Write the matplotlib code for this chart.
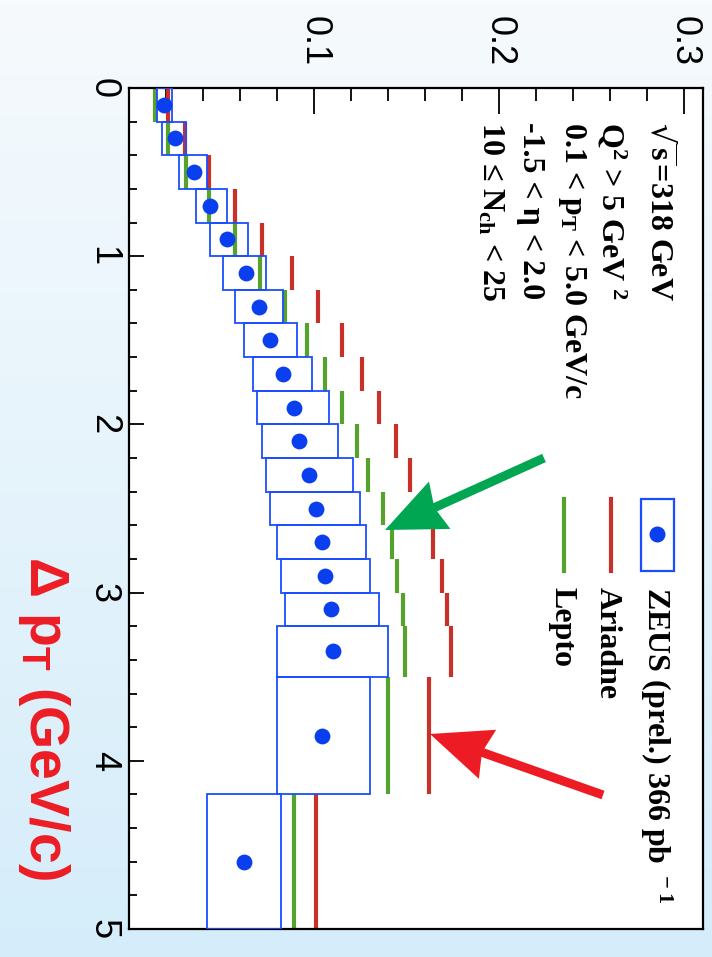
import numpy as np
import matplotlib
matplotlib.use("Agg")
import matplotlib.pyplot as plt
from matplotlib.patches import Rectangle, FancyArrow

plt.rcParams['font.family'] = ['Liberation Sans', 'DejaVu Sans']
plt.rcParams['mathtext.default'] = 'regular'

# bins in Delta pT (GeV/c)
pt_edges = [0.0, 0.2, 0.4, 0.6, 0.8, 1.0, 1.2, 1.4, 1.6, 1.8, 2.0,
            2.2, 2.4, 2.6, 2.8, 3.0, 3.2, 3.5, 4.2, 5.0]
# ZEUS (prel.) points and systematic box edges
zeus = [0.019, 0.025, 0.035, 0.044, 0.053, 0.063, 0.070, 0.076, 0.083, 0.089,
        0.092, 0.097, 0.101, 0.104, 0.106, 0.109, 0.110, 0.104, 0.062]
zeus_lo = [0.015, 0.018, 0.027, 0.036, 0.044, 0.051, 0.057, 0.062, 0.067, 0.069,
           0.072, 0.074, 0.076, 0.080, 0.082, 0.084, 0.080, 0.080, 0.042]
zeus_hi = [0.023, 0.031, 0.042, 0.053, 0.064, 0.074, 0.083, 0.091, 0.099, 0.108,
           0.113, 0.121, 0.125, 0.128, 0.130, 0.135, 0.140, 0.130, 0.082]
# MC predictions
ariadne = [0.021, 0.030, 0.043, 0.057, 0.072, 0.088, 0.102, 0.115, 0.126, 0.135,
           0.144, 0.152, 0.160, 0.164, 0.169, 0.172, 0.174, 0.162, 0.101]
lepto = [0.014, 0.021, 0.031, 0.043, 0.057, 0.071, 0.084, 0.096, 0.106, 0.115,
         0.123, 0.129, 0.137, 0.142, 0.145, 0.148, 0.149, 0.140, 0.089]

W, H = 712, 957
blue_box = '#1a4dff'
blue_dot = '#0a3ff0'
red = '#c8312a'
green = '#56a22e'

fig = plt.figure(figsize=(W / 100, H / 100), dpi=100)

# slide background
bg = fig.add_axes([0, 0, 1, 1], zorder=0)
t = np.linspace(0, 1, 256)[:, None, None]
top = np.array([246, 250, 253]) / 255
bot = np.array([213, 237, 250]) / 255
bg.imshow(top + (bot - top) * t, aspect='auto', extent=[0, 1, 0, 1])
bg.axis('off')

ax = fig.add_axes([129 / W, 1 - 929 / H, (703 - 129) / W, (929 - 88) / H], zorder=1)
ax.set_facecolor('white')
ax.set_xlim(0, 0.31)
ax.set_ylim(5, 0)

lo = np.array(pt_edges[:-1])
hi = np.array(pt_edges[1:])
mid = (lo + hi) / 2

ax.vlines(lepto, lo, hi, color=green, lw=3)
ax.vlines(ariadne, lo, hi, color=red, lw=3)
for a, b, l, h in zip(lo, hi, zeus_lo, zeus_hi):
    ax.add_patch(Rectangle((l, a), h - l, b - a, fill=False, ec=blue_box, lw=1.3, zorder=3))
ax.scatter(zeus, mid, s=130, color=blue_dot, linewidths=0, zorder=4)

ax.xaxis.tick_top()
ax.set_xticks([0.1, 0.2, 0.3])
ax.set_xticks(np.arange(0.02, 0.305, 0.02), minor=True)
ax.set_xticklabels(['0.1', '0.2', '0.3'], rotation=-90, fontsize=26)
ax.tick_params(axis='x', which='major', direction='in', length=19, width=1.3, pad=16)
ax.tick_params(axis='x', which='minor', direction='in', length=9, width=1.3)
ax.set_yticks(range(6))
ax.set_yticks(np.arange(0, 5.01, 0.2), minor=True)
ax.set_yticklabels([str(i) for i in range(6)], rotation=-90, fontsize=26, va='center')
ax.tick_params(axis='y', which='major', direction='in', length=11, width=1.3, pad=6)
ax.tick_params(axis='y', which='minor', direction='in', length=6, width=1.3)
for s in ax.spines.values():
    s.set_linewidth(1.6)

# overlay in pixel coordinates for legend, labels and arrows
ov = fig.add_axes([0, 0, 1, 1], zorder=3)
ov.set_xlim(0, W)
ov.set_ylim(H, 0)
ov.axis('off')
ov.patch.set_alpha(0)

serif = dict(family=['Liberation Serif', 'DejaVu Serif'], weight='bold', size=23,
             rotation=-90, rotation_mode='anchor', ha='left', va='baseline')

# legend
ov.add_patch(Rectangle((641, 499), 33, 72, fill=False, ec=blue_box, lw=1.6))
ov.plot([657], [534], 'o', color=blue_dot, ms=11.5, mew=0)
ov.plot([611, 611], [499, 571], color=red, lw=3)
ov.plot([564, 564], [499, 571], color=green, lw=3)
ov.text(647, 587, 'ZEUS (prel.) 366 pb$^{\\ -1}$', **serif)
ov.text(600, 587, 'Ariadne', **serif)
ov.text(555, 587, 'Lepto', **serif)

# cuts
ov.text(650, 122, r'$\sqrt{s}$=318 GeV', **serif)
ov.text(602, 122, 'Q$^{2}$ > 5 GeV $^{2}$', **serif)
ov.text(565, 122, '0.1 < p$_{T}$ < 5.0 GeV/c', **serif)
ov.text(523, 122, '-1.5 < \u03b7 < 2.0', **serif)
ov.text(483, 122, '10 \u2264 N$_{ch}$ < 25', **serif)

# axis title
ov.text(30, 556, '\u0394 p$_{T}$ (GeV/c)', size=40, color='#ed1c24', weight='bold',
        rotation=-90, rotation_mode='anchor', ha='left', va='baseline')

# arrows
ov.add_patch(FancyArrow(544, 458, 385 - 544, 530 - 458, width=9, head_width=52,
                        head_length=60, overhang=0.08, length_includes_head=True,
                        color='#00a651', lw=0))
ov.add_patch(FancyArrow(603, 795, 430 - 603, 734 - 795, width=9, head_width=52,
                        head_length=61, overhang=0.08, length_includes_head=True,
                        color='#ed1c24', lw=0))

fig.savefig('out.png', dpi=100)
